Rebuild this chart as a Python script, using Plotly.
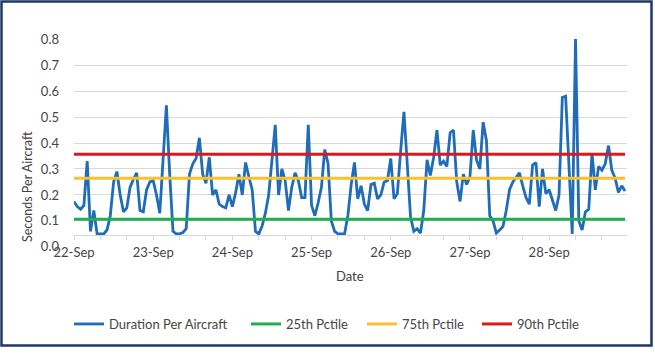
import plotly.graph_objects as go
import pandas as pd

# ---------------- data ----------------
START = "2023-09-22 00:00"
SERIES_NAME = "Duration Per Aircraft"
# hourly values, 22-Sep 00:00 .. 28-Sep 23:00
DAY_22 = [0.175, 0.155, 0.145, 0.16, 0.33, 0.06, 0.14, 0.05, 0.05, 0.05, 0.065, 0.12,
          0.25, 0.29, 0.2, 0.135, 0.15, 0.23, 0.26, 0.285, 0.14, 0.135, 0.22, 0.25]
DAY_23 = [0.255, 0.2, 0.13, 0.36, 0.545, 0.28, 0.06, 0.05, 0.05, 0.055, 0.07, 0.28,
          0.32, 0.34, 0.42, 0.28, 0.245, 0.345, 0.2, 0.22, 0.165, 0.155, 0.15, 0.2]
DAY_24 = [0.155, 0.21, 0.28, 0.2, 0.325, 0.27, 0.22, 0.06, 0.05, 0.08, 0.13, 0.2,
          0.33, 0.47, 0.2, 0.3, 0.255, 0.14, 0.23, 0.285, 0.255, 0.19, 0.19, 0.47]
DAY_25 = [0.16, 0.12, 0.17, 0.23, 0.375, 0.32, 0.1, 0.06, 0.05, 0.05, 0.05, 0.12,
          0.24, 0.325, 0.185, 0.235, 0.165, 0.14, 0.24, 0.245, 0.185, 0.2, 0.25, 0.255]
DAY_26 = [0.34, 0.185, 0.205, 0.37, 0.52, 0.32, 0.115, 0.06, 0.07, 0.053, 0.14, 0.335,
          0.275, 0.345, 0.45, 0.315, 0.33, 0.31, 0.44, 0.45, 0.25, 0.175, 0.28, 0.24]
DAY_27 = [0.27, 0.45, 0.335, 0.3, 0.48, 0.41, 0.12, 0.1, 0.053, 0.065, 0.078, 0.14,
          0.22, 0.25, 0.27, 0.285, 0.235, 0.19, 0.165, 0.315, 0.325, 0.155, 0.3, 0.205]
DAY_28 = [0.22, 0.18, 0.14, 0.2, 0.575, 0.58, 0.3, 0.05, 0.8, 0.1, 0.065, 0.135,
          0.145, 0.36, 0.22, 0.31, 0.295, 0.32, 0.39, 0.295, 0.265, 0.21, 0.235, 0.215]
DURATION = DAY_22 + DAY_23 + DAY_24 + DAY_25 + DAY_26 + DAY_27 + DAY_28

PCT_NAMES = ["25th Pctile", "75th Pctile", "90th Pctile"]
PCT_VALUES = [0.106, 0.264, 0.357]
PCT_COLORS = ["#22ad4e", "#fbc02d", "#e0161c"]

X_TITLE = "Date"
Y_TITLE = "Seconds Per Aircraft"
Y_MAX = 0.8
AXIS_CROSS = 0.048  # horizontal axis line crosses the value axis here

# ---------------- layout geometry ----------------
W, H = 655, 360
L, R, T, B = 74, 28, 39, 113
PW, PH = W - L - R, H - T - B


def px_x(x):
    return (x - L) / PW


def px_y(y):
    return (H - B - y) / PH


times = pd.date_range(START, periods=len(DURATION), freq="h")
x_end = times[0] + pd.Timedelta(hours=167.6)

FONT = "Lato, Carlito, Calibri, sans-serif"
TXT = "#454545"
GRID = "#d9d9d9"

# legend boxes: one per entry so spacing matches the reference
LEGEND_X_PX = [69, 246, 362, 477]
LEGEND_TOP_PX = 309

fig = go.Figure()
fig.add_trace(go.Scatter(x=times, y=DURATION, mode="lines", name=SERIES_NAME,
                         line=dict(color="#1f6cb8", width=2.8), legend="legend"))
for i, (name, val, col) in enumerate(zip(PCT_NAMES, PCT_VALUES, PCT_COLORS)):
    fig.add_trace(go.Scatter(x=times, y=[val] * len(times), mode="lines", name=name,
                             line=dict(color=col, width=3), legend=f"legend{i + 2}"))
# helper trace to realise the tick-mark axis
fig.add_trace(go.Scatter(x=[times[0]], y=[None], xaxis="x2", showlegend=False,
                         hoverinfo="skip", mode="lines"))

legend_common = dict(orientation="h", xanchor="left", yanchor="top",
                     font=dict(size=13, color=TXT), bgcolor="rgba(0,0,0,0)")
legends = {}
for i, lx in enumerate(LEGEND_X_PX):
    key = "legend" if i == 0 else f"legend{i + 1}"
    legends[key] = dict(legend_common, x=px_x(lx), y=px_y(LEGEND_TOP_PX))

fig.update_layout(
    width=W, height=H,
    margin=dict(l=L, r=R, t=T, b=B),
    paper_bgcolor="white", plot_bgcolor="white",
    font=dict(family=FONT, size=13, color=TXT),
    showlegend=True,
    xaxis=dict(type="date", range=[times[0], x_end], tickformat="%d-%b",
               dtick=86400000, tick0=START, showgrid=False, showline=False,
               ticks="", zeroline=False, tickfont=dict(size=13, color=TXT),
               ticklabelstandoff=-4),
    xaxis2=dict(type="date", overlaying="x", matches="x", anchor="free",
                position=AXIS_CROSS / Y_MAX, showline=True, linecolor=GRID,
                linewidth=1, ticks="outside", ticklen=4, tickcolor=GRID,
                dtick=8 * 3600000, tick0=START, showticklabels=False,
                showgrid=False, zeroline=False),
    yaxis=dict(range=[-0.0004, Y_MAX + 0.0004], dtick=0.1, tick0=0, tickformat=".1f",
               showgrid=True, gridcolor=GRID, gridwidth=1, zeroline=False,
               showline=False, ticks="", tickfont=dict(size=13, color=TXT),
               ticklabelstandoff=14),
    annotations=[
        dict(text=Y_TITLE, xref="paper", yref="paper", x=px_x(27), y=px_y(187),
             xanchor="center", yanchor="middle",
             showarrow=False, textangle=-90, font=dict(size=12.5, color="#404040")),
        dict(text=X_TITLE, xref="paper", yref="paper", x=px_x(350), y=px_y(276),
             xanchor="center", yanchor="middle",
             showarrow=False, font=dict(size=13, color="#404040")),
    ],
    shapes=[
        dict(type="rect", xref="paper", yref="paper",
             x0=px_x(1.5), x1=px_x(651.5), y0=px_y(345.5), y1=px_y(1.5),
             line=dict(color="#1f3864", width=2.5), fillcolor="rgba(0,0,0,0)",
             layer="below"),
    ],
    **legends,
)

fig.write_html("out.html", config={"displayModeBar": False},
               post_script="document.body.style.margin='0';document.body.style.padding='0';")
